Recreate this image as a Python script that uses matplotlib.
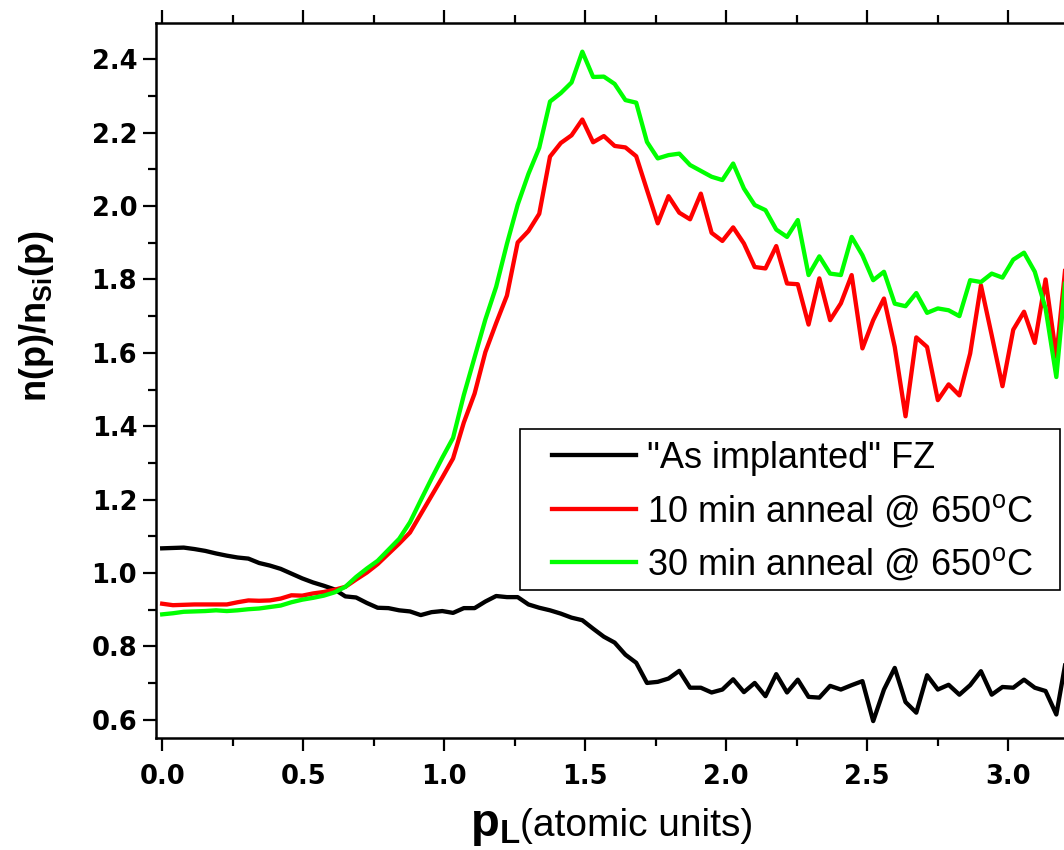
import numpy as np
import matplotlib
matplotlib.use("Agg")
import matplotlib.pyplot as plt
from matplotlib.patches import Rectangle

plt.rcParams["mathtext.fontset"] = "custom"
plt.rcParams["mathtext.rm"] = "Liberation Sans"
plt.rcParams["mathtext.bf"] = "Liberation Sans:bold"
plt.rcParams["mathtext.it"] = "Liberation Sans:italic"

# momentum channel width (atomic units)
STEP = 0.0382

as_implanted = [
    1.067, 1.068, 1.069, 1.065, 1.060, 1.053, 1.047, 1.042, 1.039, 1.027,
    1.020, 1.011, 0.998, 0.985, 0.974, 0.965, 0.955, 0.936, 0.933, 0.918,
    0.905, 0.904, 0.898, 0.895, 0.885, 0.893, 0.896, 0.891, 0.904, 0.904,
    0.922, 0.937, 0.934, 0.934, 0.914, 0.905, 0.898, 0.889, 0.878, 0.871,
    0.848, 0.826, 0.810, 0.777, 0.755, 0.700, 0.703, 0.712, 0.733, 0.687,
    0.687, 0.674, 0.682, 0.710, 0.675, 0.700, 0.664, 0.724, 0.674, 0.709,
    0.662, 0.660, 0.692, 0.682, 0.694, 0.705, 0.596, 0.682, 0.741, 0.648,
    0.619, 0.721, 0.682, 0.695, 0.668, 0.694, 0.732, 0.668, 0.689, 0.687,
    0.709, 0.687, 0.678, 0.614, 0.780,
]

anneal_10min = [
    0.916, 0.912, 0.913, 0.914, 0.914, 0.914, 0.914, 0.920, 0.925, 0.924,
    0.925, 0.930, 0.939, 0.938, 0.944, 0.948, 0.954, 0.962, 0.982, 1.001,
    1.024, 1.052, 1.080, 1.110, 1.160, 1.210, 1.260, 1.312, 1.410, 1.489,
    1.602, 1.681, 1.756, 1.901, 1.932, 1.979, 2.135, 2.172, 2.193, 2.236,
    2.174, 2.191, 2.164, 2.160, 2.136, 2.044, 1.953, 2.027, 1.982, 1.964,
    2.034, 1.927, 1.905, 1.942, 1.898, 1.834, 1.830, 1.891, 1.789, 1.787,
    1.677, 1.803, 1.689, 1.735, 1.812, 1.612, 1.689, 1.748, 1.616, 1.427,
    1.642, 1.616, 1.471, 1.514, 1.484, 1.598, 1.784, 1.648, 1.509, 1.663,
    1.712, 1.627, 1.800, 1.589, 1.880,
]

anneal_30min = [
    0.887, 0.890, 0.894, 0.895, 0.896, 0.898, 0.896, 0.898, 0.901, 0.903,
    0.907, 0.911, 0.920, 0.927, 0.932, 0.938, 0.947, 0.962, 0.989, 1.012,
    1.033, 1.063, 1.093, 1.138, 1.198, 1.257, 1.314, 1.368, 1.485, 1.588,
    1.691, 1.780, 1.897, 2.004, 2.088, 2.159, 2.285, 2.308, 2.337, 2.421,
    2.352, 2.353, 2.333, 2.289, 2.282, 2.175, 2.130, 2.139, 2.143, 2.112,
    2.096, 2.080, 2.071, 2.116, 2.048, 2.003, 1.989, 1.936, 1.916, 1.962,
    1.812, 1.863, 1.816, 1.812, 1.916, 1.866, 1.798, 1.821, 1.734, 1.727,
    1.763, 1.709, 1.721, 1.716, 1.700, 1.798, 1.793, 1.816, 1.805, 1.854,
    1.873, 1.821, 1.721, 1.534, 1.850,
]

labels = [
    '"As implanted" FZ',
    r"10 min anneal @ 650$^\mathrm{o}$C",
    r"30 min anneal @ 650$^\mathrm{o}$C",
]
colors = ["black", "#ff0000", "#00ff00"]

p_l = np.arange(len(as_implanted)) * STEP

fig = plt.figure(figsize=(10.64, 8.5), dpi=100)
# axes run off the right edge of the figure
ax = fig.add_axes([0.1466, 0.1318, 0.8805, 0.8415])

for y, c, lab in zip([as_implanted, anneal_10min, anneal_30min], colors, labels):
    ax.plot(p_l, y, color=c, lw=3.1, label=lab)

ax.set_xlim(-0.022, 3.3)
ax.set_ylim(0.55, 2.5)

tick_font = {"family": "DejaVu Sans", "weight": "bold", "size": 18.5}
xt = np.arange(0, 3.3, 0.5)
yt = np.arange(0.6, 2.41, 0.2)
ax.set_xticks(xt)
ax.set_xticklabels([f"{v:.1f}" for v in xt], fontdict=tick_font)
ax.set_xticks(np.arange(0, 3.3, 0.25), minor=True)
ax.set_yticks(yt)
ax.set_yticklabels([f"{v:.1f}" for v in yt], fontdict=tick_font)
ax.set_yticks(np.arange(0.6, 2.5, 0.1), minor=True)

ax.tick_params(which="both", direction="out", top=True, right=False, width=1.6)
ax.tick_params(which="major", length=9.5)
ax.tick_params(which="minor", length=5.5)
ax.tick_params(axis="x", which="major", pad=9)
ax.tick_params(axis="y", which="major", pad=4)
for s in ax.spines.values():
    s.set_linewidth(1.8)
ax.spines["right"].set_visible(False)

ax.set_ylabel(r"n(p)/n$_\mathbf{Si}$(p)", fontsize=26, fontweight="bold",
              family="Liberation Sans")
ax.yaxis.set_label_coords(-0.107, 0.59)

fig.text(0.4417, 0.0165, r"$\mathbf{p}_\mathbf{L}$", fontsize=34,
         ha="left", va="baseline")
fig.text(0.4887, 0.0165, "(atomic units)", fontsize=28,
         family="Liberation Sans", ha="left", va="baseline")

leg = ax.legend(loc="center left", bbox_to_anchor=(551.7 / 1064, 1 - 511.7 / 850),
                bbox_transform=fig.transFigure, frameon=False,
                prop={"family": "Liberation Sans", "size": 26},
                handlelength=2.33, handletextpad=0.3, labelspacing=0.45,
                borderpad=0, borderaxespad=0)

# legend frame: wider side margins than the vertical ones
fig.canvas.draw()
bb = leg.get_window_extent()
inv = fig.transFigure.inverted()
(x0, y0) = inv.transform((bb.x0 - 32, bb.y0 - 8))
(x1, y1) = inv.transform((bb.x1 + 27, bb.y1 + 12))
fig.add_artist(Rectangle((x0, y0), x1 - x0, y1 - y0, transform=fig.transFigure,
                         fill=False, edgecolor="black", lw=1.2, zorder=3))

fig.savefig("out.png", dpi=100)
